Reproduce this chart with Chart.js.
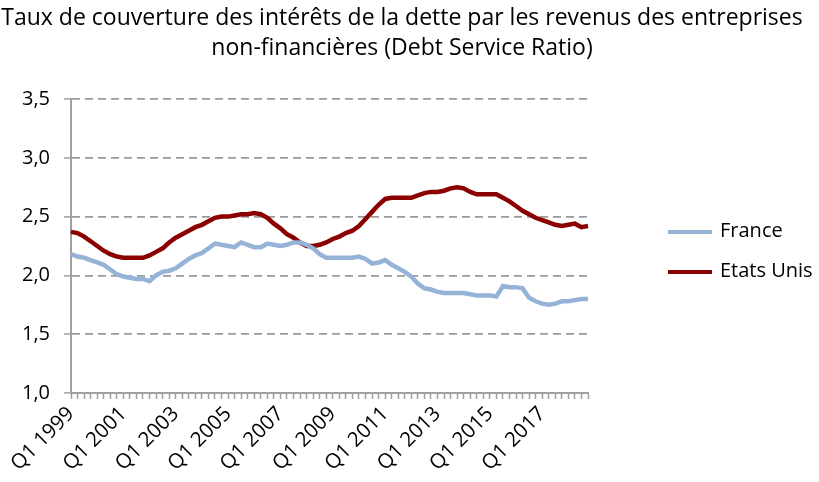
<!DOCTYPE html>
<html>
<head>
<meta charset="utf-8">
<script src="https://cdn.jsdelivr.net/npm/chart.js@4/dist/chart.umd.min.js"></script>
<style>
  body { margin: 0; background: #fff; }
  #wrap { position: relative; width: 819px; height: 482px; }
  #title { position: absolute; left: 0; top: 1px; width: 804px; text-align: center; white-space: nowrap;
           font: 23px/30px 'Open Sans', sans-serif; color: #000; }
  .leg { position: absolute; left: 668px; height: 28px; line-height: 28px; font: 20px 'Open Sans', sans-serif; color: #000; white-space: nowrap; }
  .leg .sw { display: inline-block; width: 44px; height: 4px; vertical-align: middle; margin-right: 8px; }
</style>
</head>
<body>
<div id="wrap">
  <div id="title">Taux de couverture des intérêts de la dette par les revenus des entreprises<br>non-financières (Debt Service Ratio)</div>
  <canvas id="c" width="819" height="482"></canvas>
</div>
<script>
// quarterly categories, Q1 1999 - Q4 2018
const years = [1999, 2000, 2001, 2002, 2003, 2004, 2005, 2006, 2007, 2008,
               2009, 2010, 2011, 2012, 2013, 2014, 2015, 2016, 2017, 2018];
const tickLabels = ['Q1 1999', 'Q1 2001', 'Q1 2003', 'Q1 2005', 'Q1 2007',
                    'Q1 2009', 'Q1 2011', 'Q1 2013', 'Q1 2015', 'Q1 2017'];

const france = [
  2.18, 2.16, 2.15, 2.13, 2.11, 2.09, 2.05, 2.01, 1.99, 1.98,
  1.97, 1.97, 1.95, 2.00, 2.03, 2.04, 2.06, 2.10, 2.14, 2.17,
  2.19, 2.23, 2.27, 2.26, 2.25, 2.24, 2.28, 2.26, 2.24, 2.24,
  2.27, 2.26, 2.25, 2.26, 2.28, 2.28, 2.26, 2.23, 2.18, 2.15,
  2.15, 2.15, 2.15, 2.15, 2.16, 2.14, 2.10, 2.11, 2.13, 2.09,
  2.06, 2.03, 1.99, 1.93, 1.89, 1.88, 1.86, 1.85, 1.85, 1.85,
  1.85, 1.84, 1.83, 1.83, 1.83, 1.82, 1.91, 1.90, 1.90, 1.89,
  1.81, 1.78, 1.76, 1.75, 1.76, 1.78, 1.78, 1.79, 1.80, 1.80
];
const etatsUnis = [
  2.37, 2.36, 2.33, 2.29, 2.25, 2.21, 2.18, 2.16, 2.15, 2.15,
  2.15, 2.15, 2.17, 2.20, 2.23, 2.28, 2.32, 2.35, 2.38, 2.41,
  2.43, 2.46, 2.49, 2.50, 2.50, 2.51, 2.52, 2.52, 2.53, 2.52,
  2.49, 2.44, 2.40, 2.35, 2.32, 2.28, 2.25, 2.25, 2.26, 2.28,
  2.31, 2.33, 2.36, 2.38, 2.42, 2.48, 2.54, 2.60, 2.65, 2.66,
  2.66, 2.66, 2.66, 2.68, 2.70, 2.71, 2.71, 2.72, 2.74, 2.75,
  2.74, 2.71, 2.69, 2.69, 2.69, 2.69, 2.66, 2.63, 2.59, 2.55,
  2.52, 2.49, 2.47, 2.45, 2.43, 2.42, 2.43, 2.44, 2.41, 2.42
];

const categories = [];
years.forEach(y => [1, 2, 3, 4].forEach(q => categories.push('Q' + q + ' ' + y)));

const series = [
  { label: 'France', data: france, color: '#95b3d7' },
  { label: 'Etats Unis', data: etatsUnis, color: '#8b0000' }
];

const font = "'Open Sans', sans-serif";
const axisGray = '#a0a0a0';

new Chart(document.getElementById('c'), {
  type: 'line',
  data: {
    labels: categories,
    datasets: series.map(s => ({
      label: s.label, data: s.data, borderColor: s.color, backgroundColor: s.color,
      borderWidth: 4.5, pointRadius: 0, tension: 0, fill: false
    }))
  },
  options: {
    responsive: false,
    animation: false,
    layout: { padding: { left: 0, right: 231, top: 99, bottom: 0 } },
    plugins: {
      legend: { display: false },
      tooltip: { enabled: false },
      title: { display: false }
    },
    scales: {
      x: {
        offset: false,
        afterFit: s => { s.height = 89; },
        grid: { display: true, drawOnChartArea: false, drawTicks: true, tickLength: 6,
                tickColor: axisGray, tickWidth: 1.5, offset: false },
        border: { display: true, color: axisGray, width: 2 },
        ticks: {
          autoSkip: false, minRotation: 45, maxRotation: 45, color: '#000', padding: 3,
          font: { family: font, size: 20.5 },
          callback: function (v, i) {
            const l = categories[i];
            return tickLabels.includes(l) ? l : '';
          }
        }
      },
      y: {
        min: 1, max: 3.5,
        afterFit: s => { s.width = 71; },
        grid: { color: '#9a9a9a', lineWidth: 1.8, tickLength: 7, tickColor: axisGray, tickWidth: 1.5 },
        border: { display: true, color: axisGray, width: 2, dash: [8, 5] },
        ticks: {
          stepSize: 0.5, color: '#000', padding: 14,
          font: { family: font, size: 20 },
          callback: v => v.toFixed(1).replace('.', ',')
        }
      }
    }
  }
});

// legend on the right
const wrap = document.getElementById('wrap');
series.forEach((s, i) => {
  const d = document.createElement('div');
  d.className = 'leg';
  d.style.top = (216 + i * 40) + 'px';
  d.innerHTML = '<span class="sw" style="background:' + s.color + '"></span>' + s.label;
  wrap.appendChild(d);
});
</script>
</body>
</html>
